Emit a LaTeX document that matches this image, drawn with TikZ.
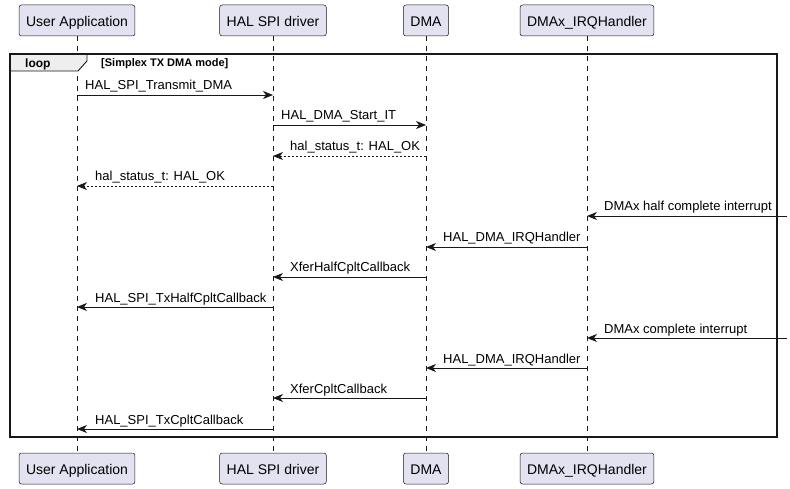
\documentclass[tikz,border=0pt]{standalone}
\usepackage{fontspec}
\setmainfont{Liberation Sans}
\usetikzlibrary{arrows.meta}
\definecolor{partfill}{HTML}{E2E2F0}
\definecolor{ink}{HTML}{181818}
\definecolor{tabfill}{HTML}{EEEEEE}
\tikzset{
  part/.style={draw=ink, fill=partfill, rounded corners=2.5pt, line width=0.5pt,
    minimum height=31pt, inner xsep=7pt, inner ysep=0pt, text height=12pt, text depth=0pt,
    font=\fontsize{14}{16}\selectfont, text=black},
  lifeline/.style={draw=ink, line width=0.5pt, dash pattern=on 5pt off 5pt},
  msg/.style={draw=ink, line width=0.9pt, -{Stealth[length=10pt,width=8pt,inset=3pt]}},
  ret/.style={msg, dash pattern=on 2pt off 2pt},
  lbl/.style={font=\fontsize{13}{15}\selectfont, inner sep=0pt, anchor=base west, text=black},
}
\begin{document}
\begin{tikzpicture}[x=1pt,y=-1pt]
\useasboundingbox (0,0) rectangle (790,489);
% participants
\node[part] (ua) at (77,20.5) {User Application};
\node[part] (spi) at (273,20.5) {HAL SPI driver};
\node[part] (dma) at (426,20.5) {DMA};
\node[part] (irq) at (587,20.5) {DMAx\_IRQHandler};
\node[part] (ua2) at (77,468.5) {User Application};
\node[part] (spi2) at (273,468.5) {HAL SPI driver};
\node[part] (dma2) at (426,468.5) {DMA};
\node[part] (irq2) at (587,468.5) {DMAx\_IRQHandler};
\draw[lifeline] (ua.south) -- (ua2.north);
\draw[lifeline] (spi.south) -- (spi2.north);
\draw[lifeline] (dma.south) -- (dma2.north);
\draw[lifeline] (irq.south) -- (irq2.north);
% loop frame
\draw[ink, fill=tabfill, line width=0.9pt] (10,54) -- (87,54) -- (87,61) -- (78,71) -- (10,71) -- cycle;
\node[font=\bfseries\fontsize{12}{14}\selectfont, anchor=base west, inner sep=0pt] (looplbl) at (25,67.5) {loop};
\node[font=\bfseries\fontsize{11}{13}\selectfont, anchor=base west, inner sep=0pt] (loopcond) at (101,67) {[Simplex TX DMA mode]};
\draw[ink, line width=1.5pt] (10,54) rectangle (777,437);
% rows
\coordinate (r1) at (0,95);
\coordinate (r2) at (0,125);
\coordinate (r3) at (0,156);
\coordinate (r4) at (0,186);
\coordinate (r5) at (0,216);
\coordinate (r6) at (0,247);
\coordinate (r7) at (0,277);
\coordinate (r8) at (0,307);
\coordinate (r9) at (0,338);
\coordinate (r10) at (0,368);
\coordinate (r11) at (0,398);
\coordinate (r12) at (0,429);
\coordinate (ext) at (787,0);
% messages
\draw[msg] (ua |- r1) -- (spi |- r1);
\node[lbl] (l1) at (85,90) {HAL\_SPI\_Transmit\_DMA};
\draw[msg] (spi |- r2) -- (dma |- r2);
\node[lbl] (l2) at (281,120) {HAL\_DMA\_Start\_IT};
\draw[ret] (dma |- r3) -- (spi |- r3);
\node[lbl] (l3) at (290,151) {hal\_status\_t: HAL\_OK};
\draw[ret] (spi |- r4) -- (ua |- r4);
\node[lbl] (l4) at (95,181) {hal\_status\_t: HAL\_OK};
\draw[msg] (ext |- r5) -- (irq |- r5);
\node[lbl] (l5) at (604,211) {DMAx half complete interrupt};
\draw[msg] (irq |- r6) -- (dma |- r6);
\node[lbl] (l6) at (443,242) {HAL\_DMA\_IRQHandler};
\draw[msg] (dma |- r7) -- (spi |- r7);
\node[lbl] (l7) at (290,272) {XferHalfCpltCallback};
\draw[msg] (spi |- r8) -- (ua |- r8);
\node[lbl] (l8) at (95,302) {HAL\_SPI\_TxHalfCpltCallback};
\draw[msg] (ext |- r9) -- (irq |- r9);
\node[lbl] (l9) at (604,333) {DMAx complete interrupt};
\draw[msg] (irq |- r10) -- (dma |- r10);
\node[lbl] (l10) at (443,363) {HAL\_DMA\_IRQHandler};
\draw[msg] (dma |- r11) -- (spi |- r11);
\node[lbl] (l11) at (290,393) {XferCpltCallback};
\draw[msg] (spi |- r12) -- (ua |- r12);
\node[lbl] (l12) at (95,424) {HAL\_SPI\_TxCpltCallback};
\end{tikzpicture}
\end{document}
